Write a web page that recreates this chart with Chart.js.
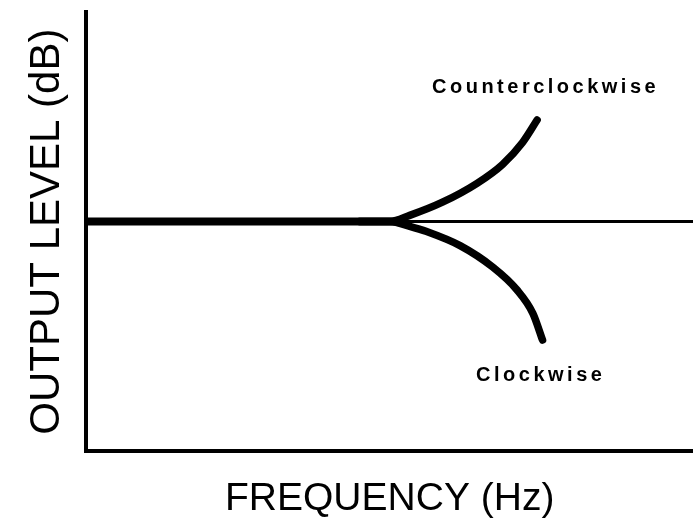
<!DOCTYPE html>
<html>
<head>
<meta charset="utf-8">
<script src="https://cdn.jsdelivr.net/npm/chart.js@4"></script>
<style>
  html, body { margin: 0; padding: 0; background: #fff; }
  #wrap { width: 693px; height: 525px; }
</style>
</head>
<body>
<div id="wrap"><canvas id="chart"></canvas></div>
<script>
  // Flat response (thick part), reference level and the two diverging curves
  const flatX = [0, 51.5];
  const flatY = [52.3, 52.3];
  const refX = [0, 100];
  const refY = [52.3, 52.3];
  const ccwX = [45.0, 50.0, 53.3, 58.7, 64.4, 68.6, 71.9, 74.3];
  const ccwY = [52.3, 52.3, 53.7, 56.7, 61.0, 65.3, 70.3, 75.4];
  const cwX = [45.0, 50.0, 53.3, 56.1, 61.6, 67.0, 71.0, 73.6, 75.2];
  const cwY = [52.3, 52.3, 51.2, 50.0, 46.8, 41.9, 36.7, 31.4, 25.3];

  const labelText = ['Counterclockwise', 'Clockwise'];
  const labelX = [75.7, 74.9];
  const labelY = [82.9, 17.3];

  const pts = (xs, ys) => xs.map((x, i) => ({ x: x, y: ys[i] }));

  const curveLabels = {
    id: 'curveLabels',
    afterDatasetsDraw(chart) {
      const ctx = chart.ctx;
      const xs = chart.scales.x, ys = chart.scales.y;
      ctx.save();
      ctx.fillStyle = '#000';
      ctx.font = 'bold 20px "Liberation Sans", Arial, sans-serif';
      ctx.letterSpacing = '3.5px';
      ctx.textAlign = 'center';
      ctx.textBaseline = 'middle';
      labelText.forEach((t, i) => {
        ctx.fillText(t, xs.getPixelForValue(labelX[i]), ys.getPixelForValue(labelY[i]));
      });
      ctx.restore();
    }
  };

  const line = (data, w) => ({
    data: data,
    showLine: true,
    borderColor: '#000',
    borderWidth: w,
    pointRadius: 0,
    borderCapStyle: 'round',
    cubicInterpolationMode: 'monotone'
  });

  new Chart(document.getElementById('chart'), {
    type: 'scatter',
    data: {
      datasets: [
        line(pts(refX, refY), 3),
        line(pts(flatX, flatY), 8),
        line(pts(ccwX, ccwY), 7.5),
        line(pts(cwX, cwY), 7.5)
      ]
    },
    options: {
      responsive: true,
      maintainAspectRatio: false,
      animation: false,
      layout: { padding: { top: 12, right: 0, bottom: 2, left: 22 } },
      plugins: { legend: { display: false }, tooltip: { enabled: false } },
      scales: {
        x: {
          type: 'linear', min: 0, max: 100,
          grid: { display: false, drawTicks: false },
          border: { display: true, color: '#000', width: 4 },
          ticks: { display: false },
          title: {
            display: true, text: 'FREQUENCY (Hz)', color: '#000',
            font: { family: '"Liberation Sans", Arial, sans-serif', size: 39 },
            padding: { top: 25, bottom: 0 }
          }
        },
        y: {
          type: 'linear', min: 0, max: 100,
          grid: { display: false, drawTicks: false },
          border: { display: true, color: '#000', width: 4 },
          ticks: { display: false },
          title: {
            display: true, text: 'OUTPUT LEVEL (dB)', color: '#000',
            font: { family: '"Liberation Sans", Arial, sans-serif', size: 42 },
            padding: { top: 0, bottom: 14 }
          }
        }
      }
    },
    plugins: [curveLabels]
  });
</script>
</body>
</html>
